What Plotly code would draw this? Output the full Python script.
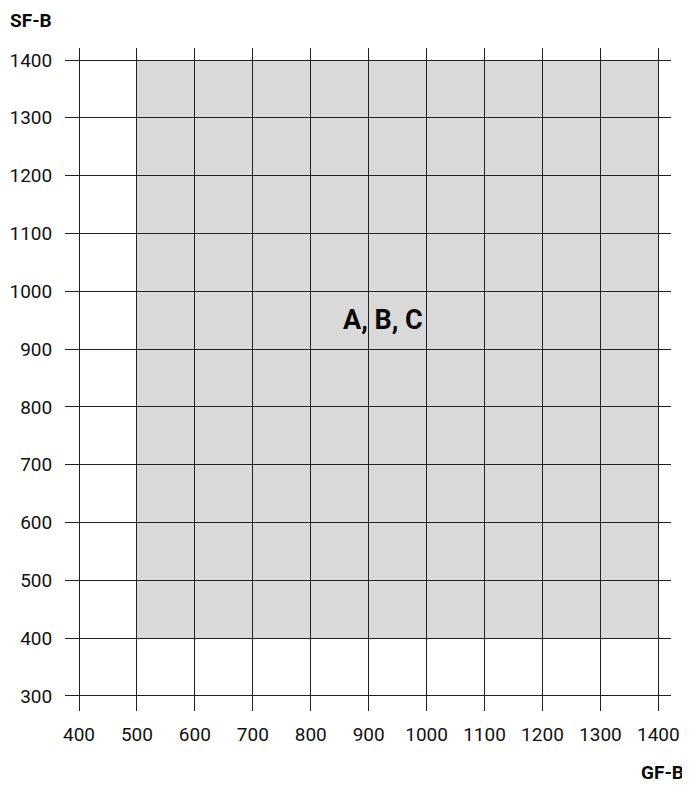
import plotly.graph_objects as go

x_ticks = [400, 500, 600, 700, 800, 900, 1000, 1100, 1200, 1300, 1400]
y_ticks = [300, 400, 500, 600, 700, 800, 900, 1000, 1100, 1200, 1300, 1400]
region_x = [500, 1400]
region_y = [400, 1400]
region_label = "A, B, C"
label_pos = [925, 950]
x_title = "GF-B"
y_title = "SF-B"

PW, PH = 606, 663  # plot area size in px

fig = go.Figure()
fig.add_trace(go.Scatter(x=[None], y=[None], showlegend=False, hoverinfo="skip"))

fig.add_shape(type="rect", x0=region_x[0], x1=region_x[1], y0=region_y[0], y1=region_y[1],
              fillcolor="#d9d9d9", line=dict(width=0), layer="below")

fig.add_annotation(x=label_pos[0], y=label_pos[1], text="<b>" + region_label + "</b>",
                   showarrow=False, font=dict(family="Roboto", size=27, color="#0a0a0a"))

fig.add_annotation(xref="paper", yref="paper", x=-56 / PW, y=1 + 39.5 / PH,
                   xanchor="left", yanchor="top", borderpad=0,
                   text="<b>" + y_title + "</b>", showarrow=False,
                   font=dict(family="Roboto", size=19, color="#0a0a0a"))
fig.add_annotation(xref="paper", yref="paper", x=1 + 15 / PW, y=-61 / PH,
                   xanchor="right", yanchor="middle",
                   text="<b>" + x_title + "</b>", showarrow=False,
                   font=dict(family="Roboto", size=19, color="#0a0a0a"))

axis_common = dict(showgrid=True, gridcolor="#222222", gridwidth=1, zeroline=False, showline=False,
                   tickfont=dict(family="Roboto", size=19, color="#111"), ticks="outside",
                   tickcolor="rgba(0,0,0,0)", automargin=False)
fig.update_xaxes(range=[375.8, 1421.9], tickvals=x_ticks, ticklen=6, **axis_common)
fig.update_yaxes(range=[274, 1420.8], tickvals=y_ticks, ticklen=8, **axis_common)

fig.update_layout(width=682, height=777, margin=dict(l=57, r=19, t=40, b=74),
                  plot_bgcolor="white", paper_bgcolor="white", showlegend=False)

fig.write_html("out.html")
